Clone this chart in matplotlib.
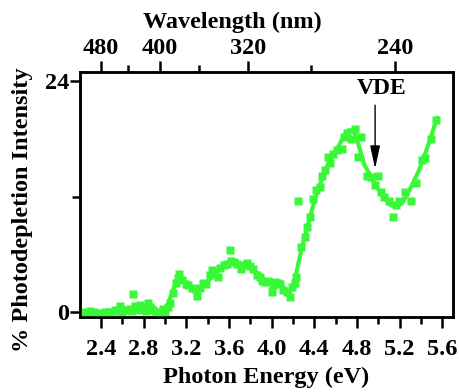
import matplotlib
matplotlib.use("Agg")
import matplotlib.pyplot as plt
from matplotlib.ticker import FixedLocator, NullFormatter

plt.rcParams['font.family'] = ['Liberation Serif', 'DejaVu Serif']
plt.rcParams['font.weight'] = 'bold'

# Measured photodepletion points (photon energy in eV, % depletion)
energy = [2.22, 2.25, 2.28, 2.30, 2.32, 2.34, 2.36, 2.39, 2.42, 2.44, 2.46, 2.48,
          2.50, 2.53, 2.56, 2.58, 2.60, 2.62, 2.64, 2.67, 2.69, 2.70, 2.72, 2.74,
          2.77, 2.78, 2.80, 2.82, 2.84, 2.86, 2.87, 2.89, 2.92, 2.94, 2.97, 2.98,
          3.00, 3.03, 3.05, 3.08, 3.10, 3.12, 3.13, 3.16, 3.20, 3.22, 3.25, 3.28,
          3.30, 3.33, 3.36, 3.39, 3.42, 3.44, 3.47, 3.50, 3.52, 3.55, 3.58, 3.61,
          3.62, 3.65, 3.68, 3.71, 3.74, 3.77, 3.80, 3.83, 3.86, 3.89, 3.91, 3.94,
          3.97, 4.00, 4.01, 4.03, 4.06, 4.08, 4.11, 4.14, 4.17, 4.19, 4.22, 4.23,
          4.25, 4.28, 4.31, 4.33, 4.36, 4.39, 4.42, 4.45, 4.47, 4.50, 4.53, 4.55,
          4.58, 4.61, 4.66, 4.68, 4.71, 4.74, 4.78, 4.81, 4.84, 4.89, 4.93, 4.97,
          5.00, 5.03, 5.05, 5.10, 5.14, 5.17, 5.19, 5.25, 5.31, 5.35, 5.41, 5.44,
          5.49, 5.54]
depletion = [0.0, -0.1, -0.2, 0.14, -0.1, 0.0, -0.2, -0.1, -0.2, 0.0, -0.1, 0.07,
             0.0, 0.24, 0.1, 0.6, 0.0, 0.24, 0.2, 0.35, 0.1, 1.87, 0.6, 0.3,
             0.76, 0.2, 0.4, 0.1, 0.93, 0.5, 0.35, 0.2, 0.07, -0.1, -0.1, 0.3,
             0.0, 0.5, 0.93, 2.0, 3.0, 3.6, 4.0, 3.3, 2.9, 2.8, 2.5, 2.4,
             1.7, 2.5, 3.0, 2.9, 3.9, 4.4, 4.2, 3.7, 4.6, 4.9, 5.0, 6.5,
             5.3, 5.2, 5.0, 4.5, 4.9, 5.1, 4.8, 4.5, 3.9, 3.7, 3.2, 3.1,
             3.2, 2.1, 2.8, 3.1, 3.0, 2.9, 2.3, 2.1, 1.6, 2.6, 3.0, 3.7,
             11.5, 6.8, 7.8, 8.9, 9.9, 11.8, 12.7, 13.0, 14.1, 14.8, 16.1, 15.5,
             16.4, 16.8, 17.0, 18.2, 18.6, 18.0, 19.0, 16.1, 18.2, 14.1, 14.0, 13.2,
             14.1, 12.5, 12.0, 11.6, 9.9, 11.1, 11.5, 12.5, 11.5, 13.4, 15.8, 16.0,
             18.0, 20.0]

# Smoothed trend through the data
fit_energy = [3.00, 3.05, 3.10, 3.13, 3.17, 3.22, 3.28, 3.33, 3.40, 3.46, 3.52,
              3.58, 3.64, 3.70, 3.76, 3.82, 3.88, 3.94, 4.00, 4.06, 4.12, 4.16,
              4.19, 4.23, 4.28, 4.33, 4.38, 4.43, 4.48, 4.53, 4.58, 4.63, 4.68,
              4.72, 4.76, 4.79, 4.83, 4.87, 4.92, 4.97, 5.02, 5.07, 5.12, 5.17,
              5.22, 5.27, 5.32, 5.38, 5.44, 5.50, 5.55]
fit_depletion = [0.0, 1.5, 3.0, 3.9, 3.4, 2.9, 2.5, 2.5, 3.2, 3.9, 4.5,
                 4.9, 5.1, 5.0, 4.9, 4.6, 3.9, 3.3, 3.0, 2.9, 2.5, 2.1,
                 2.3, 4.0, 6.5, 8.6, 10.7, 12.6, 14.0, 15.4, 16.4, 17.3, 18.3,
                 18.9, 18.9, 18.3, 16.8, 15.3, 14.3, 13.3, 12.4, 11.7, 11.1, 11.0,
                 11.3, 12.2, 13.3, 14.7, 16.5, 18.4, 20.2]

energy_ticks = [2.4, 2.8, 3.2, 3.6, 4.0, 4.4, 4.8, 5.2, 5.6]
energy_minor = [2.6, 3.0, 3.4, 3.8, 4.2, 4.6, 5.0, 5.4]
wavelength_ticks = [480, 400, 320, 240]
wavelength_minor = [440, 360, 280]
depletion_ticks = [0, 24]
depletion_minor = [12]

vde_energy = 4.97


def wl_to_energy(wl):
    # calibration of the wavelength scale along the energy axis
    return 1321.0 / wl - 0.348


green = '#38f838'
fs = 17.5

fig = plt.figure(figsize=(4.6, 3.92), dpi=100)
ax = fig.add_axes([80 / 460, 1 - 317 / 392, 373 / 460, 245 / 392])

ax.plot(fit_energy, fit_depletion, color=green, lw=3.0, solid_capstyle='round',
        solid_joinstyle='round', zorder=2)
ax.plot(energy, depletion, ls='none', marker='s', ms=5.2, mec='none',
        color=green, zorder=3)

ax.set_xlim(2.205, 5.70)
ax.set_ylim(-0.5, 24.95)

for s in ax.spines.values():
    s.set_linewidth(1.8)

ax.xaxis.set_major_locator(FixedLocator(energy_ticks))
ax.xaxis.set_minor_locator(FixedLocator(energy_minor))
ax.set_xticklabels([f"{v:.1f}" for v in energy_ticks])
ax.yaxis.set_major_locator(FixedLocator(depletion_ticks))
ax.yaxis.set_minor_locator(FixedLocator(depletion_minor))
ax.set_yticklabels([str(v) for v in depletion_ticks])

ax.tick_params(axis='x', which='major', direction='out', length=8, width=1.8,
               labelsize=fs, pad=8)
ax.tick_params(axis='x', which='minor', direction='out', length=5, width=1.8)
ax.tick_params(axis='y', which='major', direction='out', length=7, width=1.8,
               labelsize=fs, pad=1)
ax.tick_params(axis='y', which='minor', direction='out', length=6, width=1.8)
ax.tick_params(top=False, right=False, which='both')

ax.set_xlabel('Photon Energy (eV)', fontsize=fs, fontweight='bold', labelpad=5)

# Wavelength scale on top
ax2 = ax.twiny()
ax2.set_xlim(ax.get_xlim())
ax2.xaxis.set_major_locator(FixedLocator([wl_to_energy(w) for w in wavelength_ticks]))
ax2.xaxis.set_minor_locator(FixedLocator([wl_to_energy(w) for w in wavelength_minor]))
ax2.set_xticklabels([str(w) for w in wavelength_ticks])
ax2.xaxis.set_minor_formatter(NullFormatter())
ax2.tick_params(axis='x', which='major', direction='out', length=8, width=1.8,
                labelsize=fs, pad=1)
ax2.tick_params(axis='x', which='minor', direction='out', length=5, width=1.8)
for s in ax2.spines.values():
    s.set_linewidth(1.8)

fig.text(232 / 460, 1 - 22 / 392, 'Wavelength (nm)', ha='center', va='center',
         fontsize=fs, fontweight='bold')
fig.text(23 / 460, 1 - 210 / 392, '% Photodepletion Intensity', ha='center',
         va='center', rotation=90, fontsize=fs, fontweight='bold')

# VDE marker
ax.annotate('', xy=(vde_energy, 14.9), xytext=(vde_energy, 21.5),
            arrowprops=dict(arrowstyle='-|>,head_length=1.4,head_width=0.3',
                            color='black', lw=1.0, shrinkA=0, shrinkB=0))
ax.text(5.027, 23.2, 'VDE', ha='center', va='center', fontsize=17,
        fontweight='bold')

fig.savefig('out.png', dpi=100)
